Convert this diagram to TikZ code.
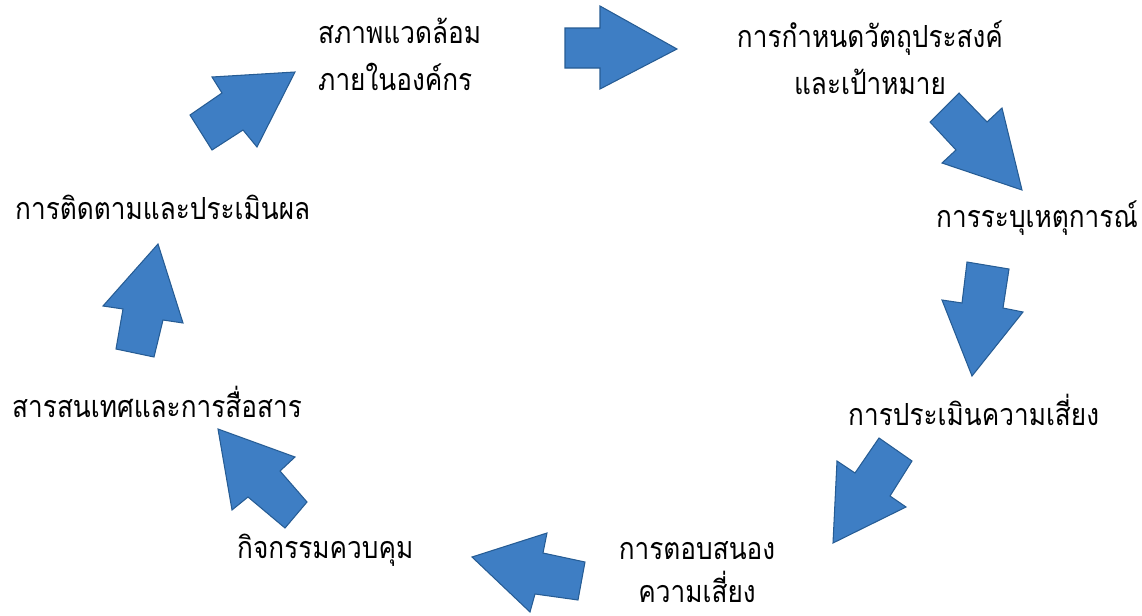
\documentclass[tikz,border=0pt]{standalone}
\usepackage{fontspec}
\newfontfamily\thaifont[Script=Thai, FakeStretch=0.86]{Loma}
\definecolor{arrowblue}{RGB}{62,126,196}
\definecolor{arrowedge}{RGB}{38,92,148}
\tikzset{
  blockarrow/.style={fill=arrowblue, draw=arrowedge, line width=0.9pt, line join=miter},
  steptext/.style={font=\thaifont\fontsize{26}{40}\selectfont, inner sep=0pt}
}
\begin{document}
\begin{tikzpicture}[x=0.03cm, y=-0.03cm]
\useasboundingbox (0,0) rectangle (1142,616);

% block arrows, clockwise from the top
\filldraw[blockarrow] (565,28) -- (600,28) -- (600,6) -- (677,49) -- (600,89) -- (600,68) -- (565,68) -- cycle;
\filldraw[blockarrow] (930,122) -- (959,93) -- (987,122) -- (1002,108) -- (1022,190) -- (942,163) -- (956,150) -- cycle;
\filldraw[blockarrow] (967,262) -- (1009,269) -- (1003,308) -- (1023,312) -- (972,376) -- (942,300) -- (962,303) -- cycle;
\filldraw[blockarrow] (879,438) -- (912,461) -- (890,496) -- (906,507) -- (833,543) -- (837,461) -- (855,473) -- cycle;
\filldraw[blockarrow] (472,557) -- (547,533) -- (543,553) -- (585,562) -- (578,600) -- (535,594) -- (530,612) -- cycle;
\filldraw[blockarrow] (218,429) -- (295,457) -- (280,471) -- (307,502) -- (285,528) -- (248,497) -- (232,510) -- cycle;
\filldraw[blockarrow] (158,244) -- (183,323) -- (163,320) -- (154,357) -- (116,349) -- (123,309) -- (103,306) -- cycle;
\filldraw[blockarrow] (190,115) -- (212,150) -- (243,130) -- (257,147) -- (295,72) -- (212,77) -- (222,93) -- cycle;

% step labels
\node[steptext, anchor=west, align=left] (env) at (318,54) {สภาพแวดล้อม\\ภายในองค์กร};
\node[steptext, align=center] (obj) at (870,58) {การกำหนดวัตถุประสงค์\\และเป้าหมาย};
\node[steptext, anchor=west] (event) at (936,218) {การระบุเหตุการณ์};
\node[steptext, anchor=west] (assess) at (848,410) {การประเมินความเสี่ยง};
\node[steptext, align=center] (resp) at (697,572) {การตอบสนอง\\[-3pt]ความเสี่ยง};
\node[steptext, anchor=west] (ctrl) at (237,550) {กิจกรรมควบคุม};
\node[steptext, anchor=west] (info) at (12,402) {สารสนเทศและการสื่อสาร};
\node[steptext, anchor=west] (monitor) at (15,207) {การติดตามและประเมินผล};
\end{tikzpicture}
\end{document}
